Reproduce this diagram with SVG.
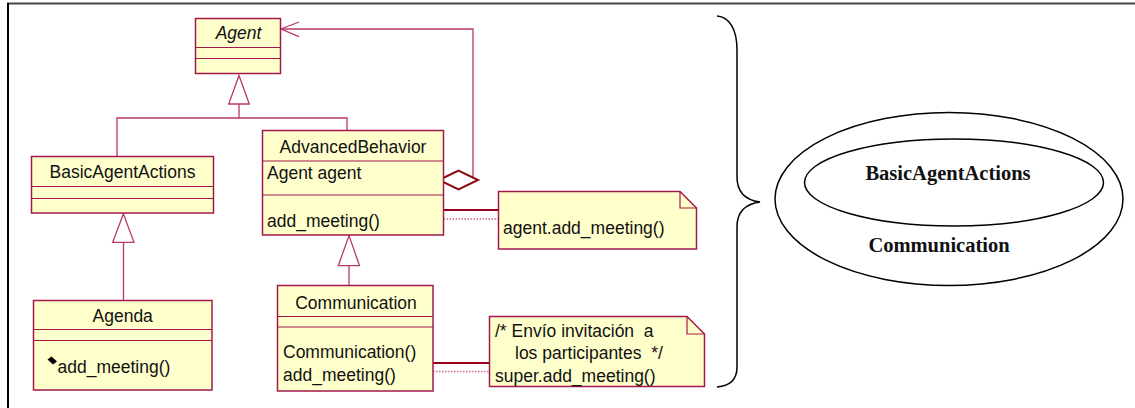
<svg xmlns="http://www.w3.org/2000/svg" width="1135" height="408" viewBox="0 0 1135 408">
  <style>
    .cls { fill: #FFFFCC; stroke: #A3184B; stroke-width: 1.5; }
    .sep { stroke: #A3184B; stroke-width: 1.2; fill: none; }
    .uml { font-family: "Liberation Sans", Arial, sans-serif; font-size: 17.5px; fill: #111; }
    .mid { text-anchor: middle; }
    .gen { fill: #FFFFFF; stroke: #B8386A; stroke-width: 1.3; }
    .link { fill: none; stroke: #B8386A; stroke-width: 1.3; }
    .anchor { stroke: #99001A; stroke-width: 2; fill: none; }
    .dots { stroke: #CC6699; stroke-width: 1.3; stroke-dasharray: 1.5 1.5; fill: none; }
    .note { fill: #FFFFCC; stroke: #A3184B; stroke-width: 1.5; }
    .set { fill: none; stroke: #000; stroke-width: 1.5; }
    .lbl { font-family: "Liberation Serif", "Times New Roman", serif; font-weight: bold; font-size: 20.5px; fill: #111; text-anchor: middle; }
  </style>

  <!-- frame -->
  <g id="frame">
    <line x1="7" y1="3.5" x2="1135" y2="3.5" stroke="#444" stroke-width="2"/>
    <line x1="8" y1="3" x2="8" y2="408" stroke="#000" stroke-width="2"/>
  </g>

  <!-- connectors -->
  <g id="connectors">
    <!-- Agent generalization -->
    <line class="link" x1="239" y1="104" x2="239" y2="118"/>
    <polyline class="link" points="117,156.5 117,118 347,118 347,130.5"/>
    <polygon class="gen" points="239,75.5 228.7,104 249.3,104"/>
    <!-- BasicAgentActions to Agenda -->
    <line class="link" x1="123.5" y1="242.3" x2="123.5" y2="300.5"/>
    <polygon class="gen" points="123.4,213.8 112.7,242.3 134,242.3"/>
    <!-- AdvancedBehavior to Communication -->
    <line class="link" x1="349" y1="265.7" x2="349" y2="285.5"/>
    <polygon class="gen" points="349,235.6 338.3,265.7 359.5,265.7"/>
    <!-- aggregation AdvancedBehavior -> Agent -->
    <polyline class="link" points="473,177.6 473,29 281,29"/>
    <polyline class="link" points="299,22 281,29 299,36.7"/>
    <polygon points="439,180 458.5,170.5 478,180 458.5,189.5" fill="#FFFFFF" stroke="#8B0A14" stroke-width="2"/>
    <!-- note anchors -->
    <line class="anchor" x1="443.5" y1="210" x2="498.5" y2="210"/>
    <line class="dots" x1="443.5" y1="219" x2="498.5" y2="219"/>
    <line class="anchor" x1="430.5" y1="363" x2="489.5" y2="363"/>
    <line class="dots" x1="433" y1="371.5" x2="489.5" y2="371.5"/>
  </g>

  <g id="Agent">
    <rect class="cls" x="195.5" y="18.5" width="85" height="55"/>
    <line class="sep" x1="195.5" y1="47.5" x2="280.5" y2="47.5"/>
    <line class="sep" x1="195.5" y1="58.5" x2="280.5" y2="58.5"/>
    <text class="uml mid" x="238.5" y="39" font-style="italic">Agent</text>
  </g>

  <g id="BasicAgentActions">
    <rect class="cls" x="31.5" y="156.5" width="182" height="56.5"/>
    <line class="sep" x1="31.5" y1="186.5" x2="213.5" y2="186.5"/>
    <line class="sep" x1="31.5" y1="198.5" x2="213.5" y2="198.5"/>
    <text class="uml mid" x="122.5" y="178">BasicAgentActions</text>
  </g>

  <g id="Agenda">
    <rect class="cls" x="33.5" y="300.5" width="178.5" height="89.5"/>
    <line class="sep" x1="33.5" y1="329.5" x2="212" y2="329.5"/>
    <line class="sep" x1="33.5" y1="340.5" x2="212" y2="340.5"/>
    <text class="uml mid" x="122.7" y="322">Agenda</text>
    <polygon points="47.5,359.5 51.5,356.5 57,361.5 53,364.5" fill="#000"/>
    <text class="uml" x="57.5" y="373">add_meeting()</text>
  </g>

  <g id="AdvancedBehavior">
    <rect class="cls" x="262.5" y="130.5" width="181" height="104.5"/>
    <line class="sep" x1="262.5" y1="161" x2="443.5" y2="161"/>
    <line class="sep" x1="262.5" y1="195" x2="443.5" y2="195"/>
    <text class="uml mid" x="353" y="153">AdvancedBehavior</text>
    <text class="uml" x="267" y="179">Agent agent</text>
    <text class="uml" x="267" y="227">add_meeting()</text>
  </g>

  <g id="Communication">
    <rect class="cls" x="277.5" y="285.5" width="155.5" height="105.5"/>
    <line class="sep" x1="277.5" y1="316.5" x2="433" y2="316.5"/>
    <line class="sep" x1="277.5" y1="327" x2="433" y2="327"/>
    <text class="uml mid" x="356" y="309">Communication</text>
    <text class="uml" x="283" y="358">Communication()</text>
    <text class="uml" x="283" y="381">add_meeting()</text>
  </g>

  <g id="note-advanced">
    <path class="note" d="M498.5,191.5 H680 L696.5,208 V249 H498.5 Z"/>
    <polyline class="sep" points="680,191.5 680,208 696.5,208"/>
    <text class="uml" x="503" y="234">agent.add_meeting()</text>
  </g>

  <g id="note-communication">
    <path class="note" d="M489.5,316.5 H687 L704.5,334 V386.5 H489.5 Z"/>
    <polyline class="sep" points="687,316.5 687,334 704.5,334"/>
    <text class="uml" x="495" y="337" xml:space="preserve">/* Envío invitación  a</text>
    <text class="uml" x="515" y="359" xml:space="preserve">los participantes  */</text>
    <text class="uml" x="495" y="382">super.add_meeting()</text>
  </g>

  <g id="brace">
    <path class="set" d="M717,16 C730,17 737,30 737,50 L737,177 C737,192 745,200 760,202 C745,204 737,212 737,227 L737,367 C737,380 730,386 717,387"/>
  </g>

  <g id="scope-sets">
    <ellipse class="set" cx="949" cy="199" rx="174" ry="86.5"/>
    <ellipse class="set" cx="954" cy="182.5" rx="149.5" ry="43.5"/>
    <text class="lbl" x="948" y="180">BasicAgentActions</text>
    <text class="lbl" x="939" y="252">Communication</text>
  </g>
</svg>
